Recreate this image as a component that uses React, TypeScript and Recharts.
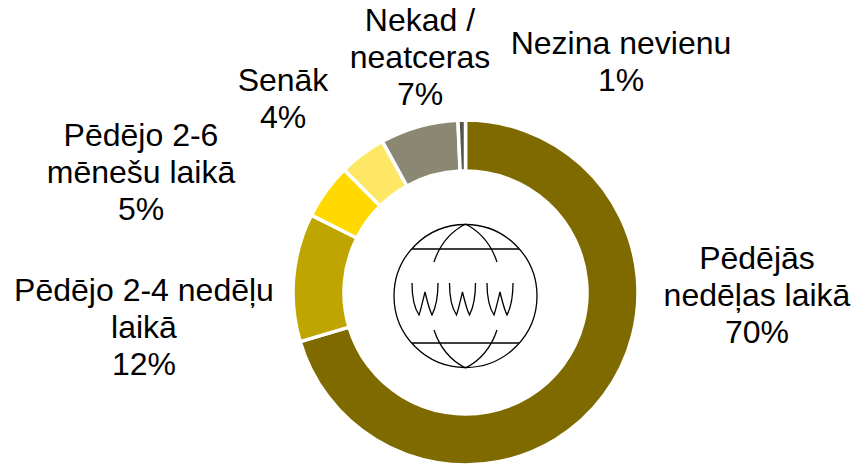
import { Cell, Pie, PieChart } from "recharts"

const categories = [
  ["Pēdējās", "nedēļas laikā"],
  ["Pēdējo 2-4 nedēļu", "laikā"],
  ["Pēdējo 2-6", "mēnešu laikā"],
  ["Senāk"],
  ["Nekad /", "neatceras"],
  ["Nezina nevienu"],
]
const values = [70.4, 12, 5.2, 4.4, 7.3, 0.7]
const colors = ["#7f6a00", "#bfa500", "#ffd900", "#ffe766", "#8a8873", "#55554a"]

// centre of the first text line of each label
const labelX = [757, 144, 141, 283, 420, 621]
const labelY = [258, 290, 135, 80, 20, 43]

const data = categories.map((lines, i) => ({ lines, value: values[i] }))

const LINE_HEIGHT = 37

function SliceLabel({ index }: { index: number }) {
  const d = data[index]
  const rows = [...d.lines, `${Math.round(d.value)}%`]
  return (
    <text
      textAnchor="middle"
      dominantBaseline="central"
      fontFamily="Liberation Sans, Arial, sans-serif"
      fontSize={32}
      fill="#000"
    >
      {rows.map((row, i) => (
        <tspan key={i} x={labelX[index]} y={labelY[index] + i * LINE_HEIGHT}>
          {row}
        </tspan>
      ))}
    </text>
  )
}

function GlobeIcon() {
  const w = "M412 283 C412 297 415 309 419 315 C421 309 423 300 425 292 C427 300 429 309 432 315 C435 309 438 297 438 283"
  return (
    <g fill="none" stroke="#000" strokeWidth={1.3}>
      <circle cx={465.5} cy={296} r={71.5} />
      <path d="M412 249 H519 M412 343 H519" />
      <path d="M465.5 224 C448 233 439 247 434 262 M465.5 224 C483 233 492 247 497 262" />
      <path d="M465.5 368 C448 359 439 345 434 330 M465.5 368 C483 359 492 345 497 330" />
      <path d={w} />
      <path d={w} transform="translate(37.5 0)" />
      <path d={w} transform="translate(75 0)" />
    </g>
  )
}

export default function App() {
  return (
    <div style={{ position: "absolute", left: 0, top: 0, width: 854, height: 466 }}>
      <PieChart width={854} height={466} margin={{ top: 0, right: 0, bottom: 0, left: 0 }}>
        <Pie
          data={data}
          dataKey="value"
          cx={465.5}
          cy={292.5}
          innerRadius={121.5}
          outerRadius={172.5}
          startAngle={90}
          endAngle={-270}
          stroke="#fff"
          strokeWidth={3.5}
          label={(p: any) => <SliceLabel index={p.index} />}
          labelLine={false}
          isAnimationActive={false}
        >
          {data.map((_, i) => (
            <Cell key={i} fill={colors[i]} />
          ))}
        </Pie>
        <GlobeIcon />
      </PieChart>
    </div>
  )
}
